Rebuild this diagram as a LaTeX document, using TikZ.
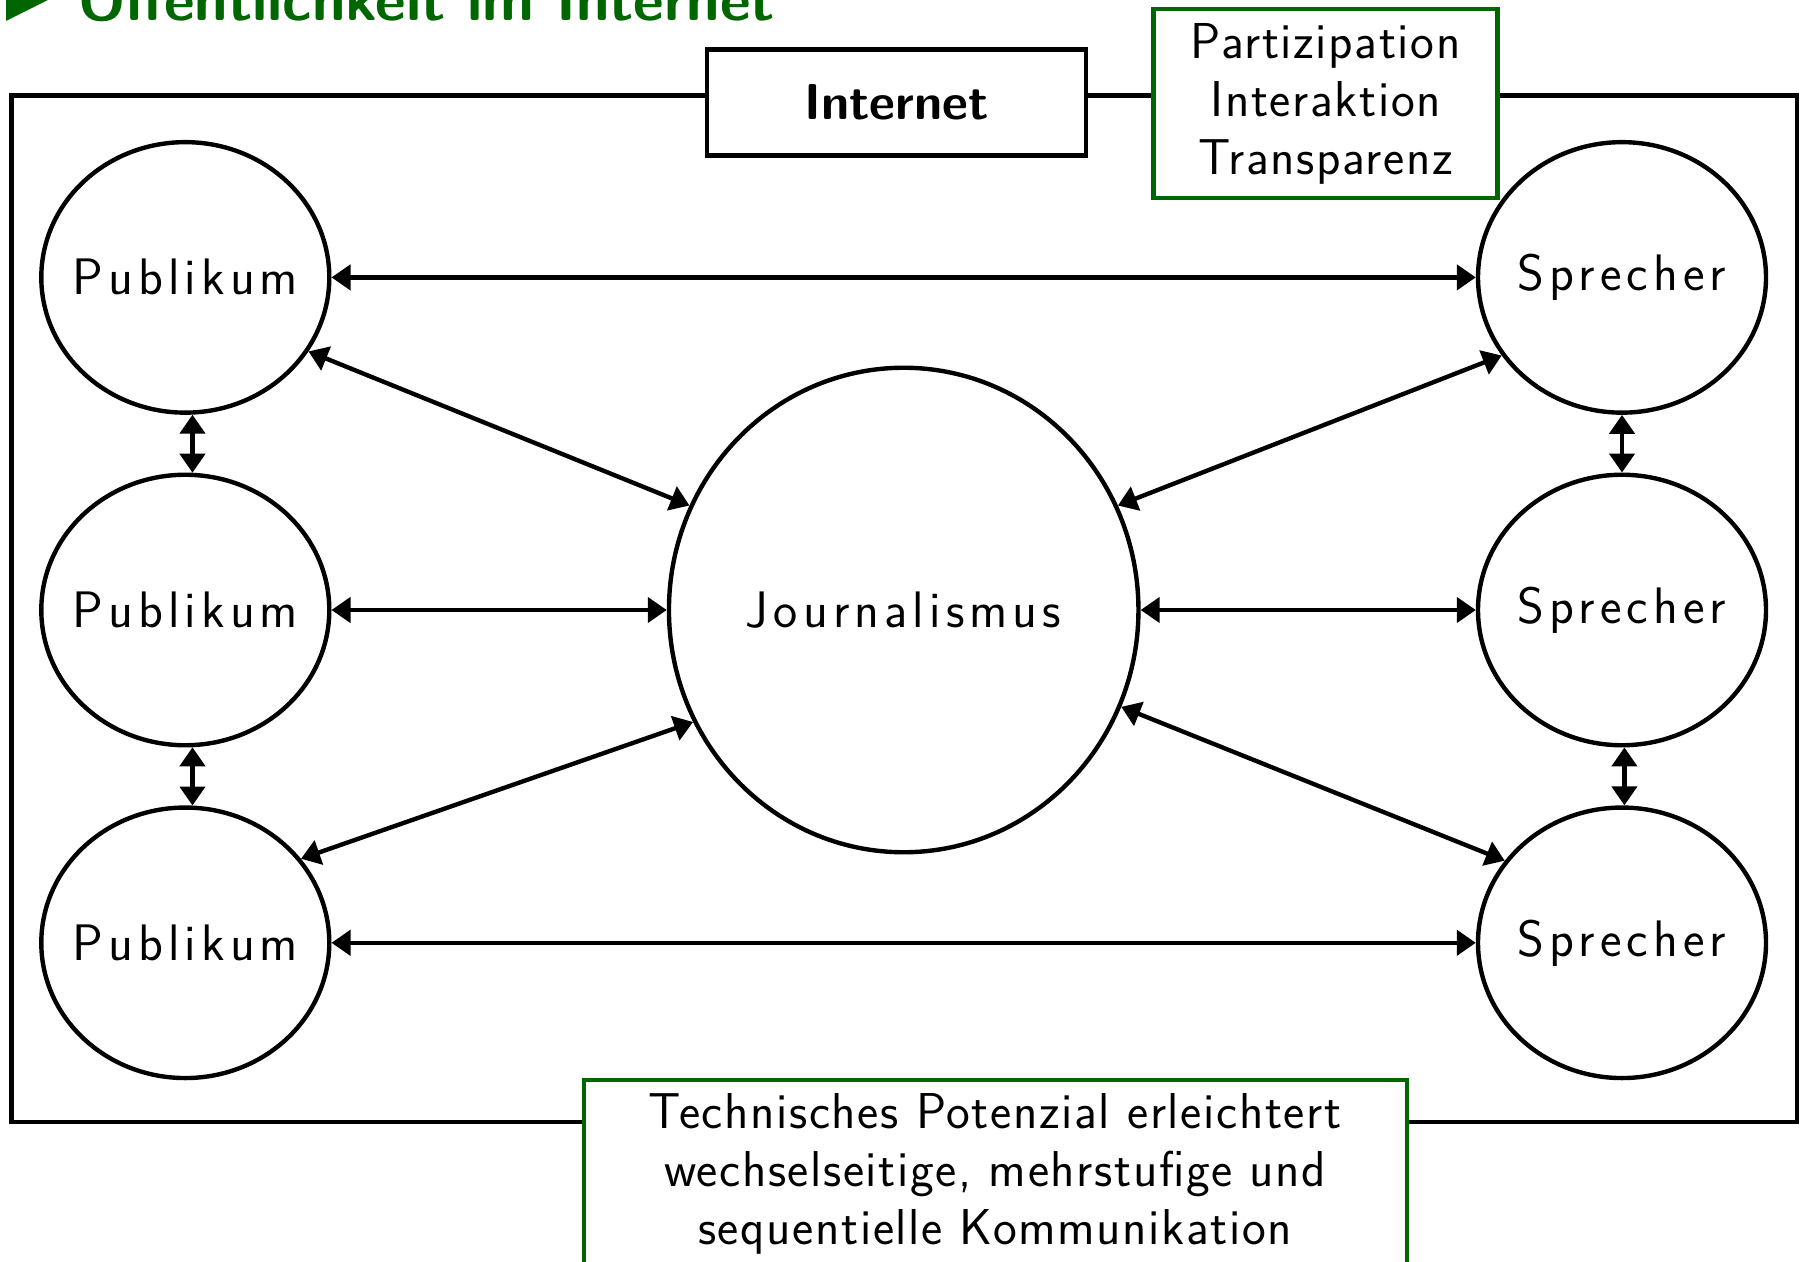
\documentclass[tikz,border=0pt]{standalone}
\usepackage{fontspec}
\setsansfont{Latin Modern Sans}[LetterSpace=3.2]
\newfontfamily\actorfont{Latin Modern Sans}[LetterSpace=10]
\newfontfamily\headfont{Latin Modern Sans}
\usepackage{tikz}
\usetikzlibrary{arrows.meta,shapes.geometric}
\definecolor{titlegreen}{RGB}{0,102,0}

\begin{document}
\begin{tikzpicture}[x=0.2mm,y=-0.2mm,>={Triangle[length=3.8mm,width=5mm]},
  every node/.style={font=\sffamily\fontsize{28.7}{33}\selectfont},
  actor/.style={ellipse,draw,line width=2.5pt,minimum width=57.6mm,
    minimum height=54.1mm,inner xsep=-5mm,inner ysep=0pt,
    font=\actorfont\fontsize{29.2}{33}\selectfont},
  centre/.style={actor,minimum width=93.9mm,minimum height=96.9mm},
  infobox/.style={draw=titlegreen,line width=2.5pt,fill=white,align=center,
    inner sep=0pt},
  link/.style={<->,line width=2.5pt}]
  % Pixel coordinates of the slide, y downwards.
  \useasboundingbox (0,0) rectangle (1805,1262);

  % Slide title (cut at the top edge)
  \fill[titlegreen] (6,-23) -- (50,-1) -- (6,21) -- cycle;
  \node[anchor=base west,text=titlegreen,inner sep=0pt,
    font=\headfont\bfseries\fontsize{34}{38}\selectfont] (title) at (78,21)
    {Öffentlichkeit im Internet};

  % Frame of the internet
  \draw[line width=2.5pt] (11.5,95.5) rectangle (1797,1122);
  \node[draw,line width=2.5pt,fill=white,minimum width=75.8mm,minimum height=21.2mm,
    font=\headfont\bfseries\fontsize{28.7}{33}\selectfont] (internet) at (896.5,102.5)
    {Internet};
  \node[infobox,minimum width=68.8mm,minimum height=37.8mm] (merkmale)
    at (1325.6,103.6) {Partizipation\\Interaktion\\Transparenz};
  \node[infobox,anchor=north,minimum width=164.6mm,minimum height=37.8mm]
    (potenzial) at (995.2,1077.5)
    {Technisches Potenzial erleichtert\\wechselseitige, mehrstufige und\\
     sequentielle Kommunikation};

  % Actors
  \node[actor] (pub1) at (185.3,277.4) {Publikum};
  \node[actor] (pub2) at (185.3,610) {Publikum};
  \node[actor] (pub3) at (185.3,942.8) {Publikum};
  \node[actor] (spr1) at (1622,277.4) {Sprecher};
  \node[actor] (spr2) at (1622,610) {Sprecher};
  \node[actor] (spr3) at (1622,942.8) {Sprecher};
  \node[centre] (journ) at (903.7,610) {Journalismus};

  % Communication paths
  \draw[link] (pub1.east) -- (spr1.west);
  \draw[link] (pub3.east) -- (spr3.west);
  \draw[link] (pub2.east) -- (journ.west);
  \draw[link] (journ.east) -- (spr2.west);
  \draw[link] (pub1.-31) -- (journ.154);
  \draw[link] (pub3.36) -- (journ.-152);
  \draw[link] (spr1.-147) -- (journ.26);
  \draw[link] (spr3.145) -- (journ.-24);
  \draw[link] (pub1.-87) -- (pub2.87);
  \draw[link] (pub2.-87) -- (pub3.87);
  \draw[link] (spr1.south) -- (spr2.north);
  \draw[link] (spr2.-89) -- (spr3.89);
\end{tikzpicture}
\end{document}
